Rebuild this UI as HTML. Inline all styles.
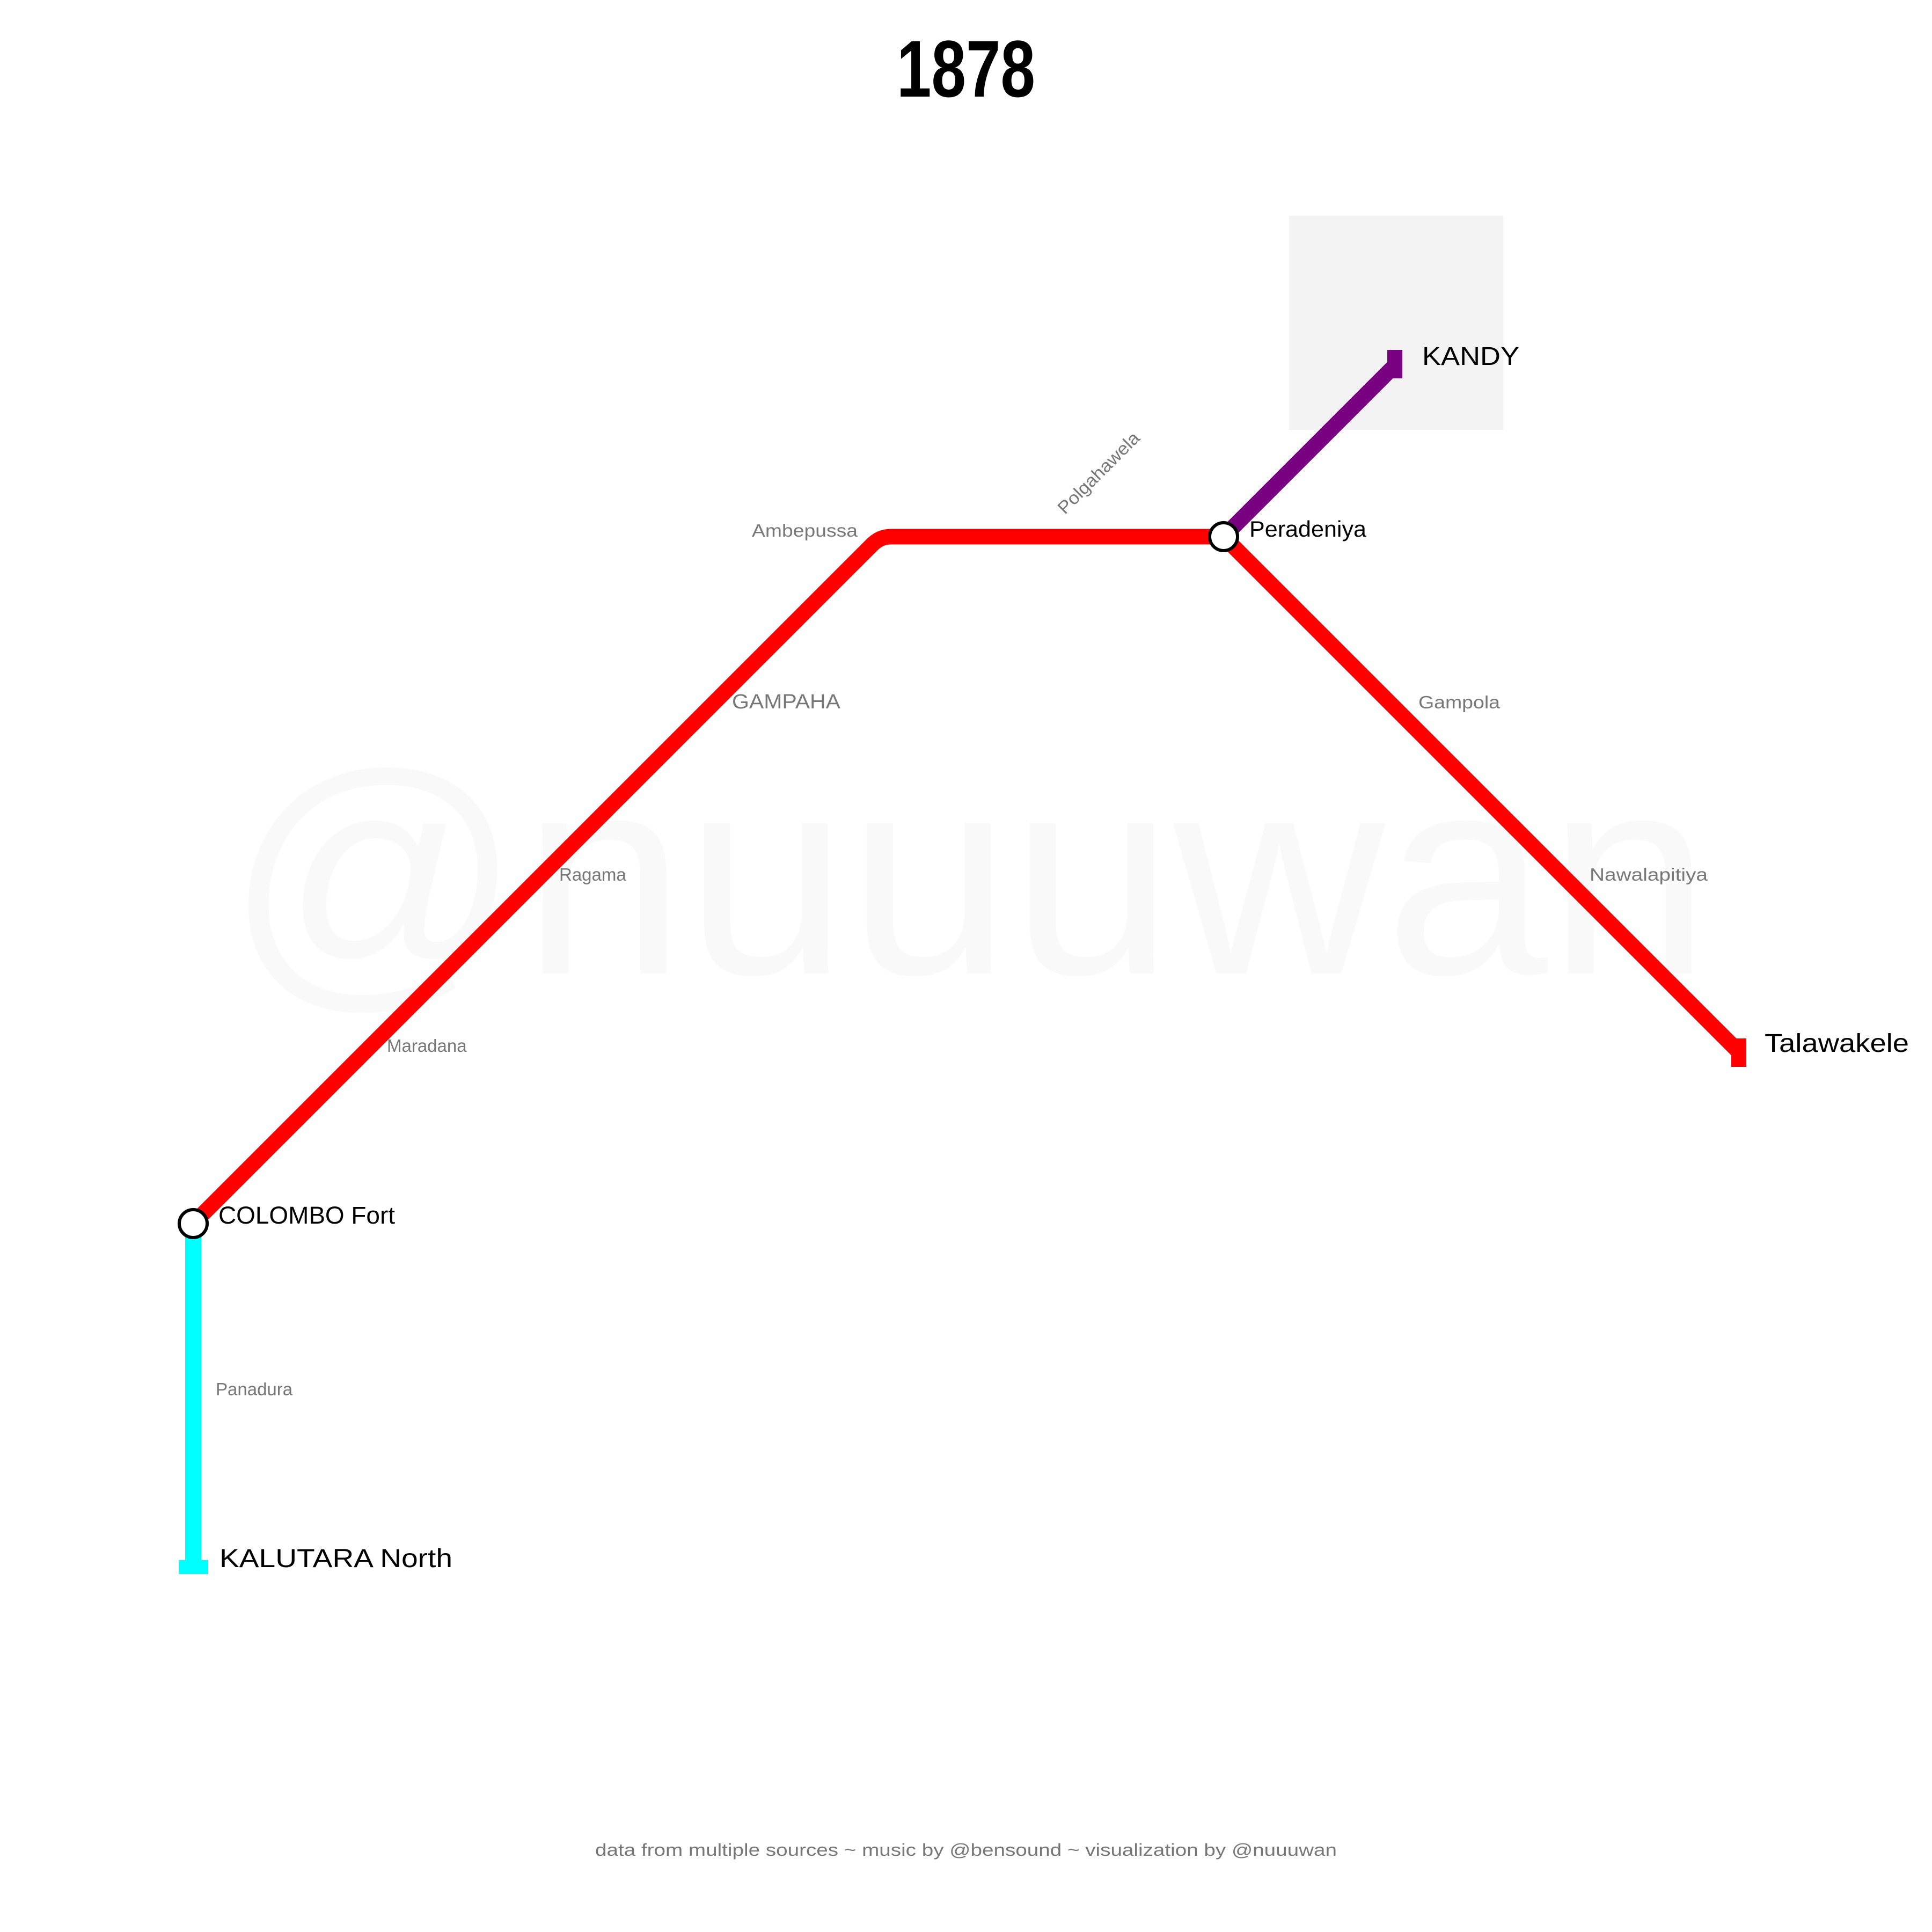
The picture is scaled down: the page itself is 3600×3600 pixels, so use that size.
<!DOCTYPE html>
<html><head><meta charset="utf-8"><style>html,body{margin:0;padding:0;background:#fff}svg{display:block}</style></head>
<body>
<svg width="3600" height="3600" viewBox="0 0 3600 3600" xmlns="http://www.w3.org/2000/svg" font-family="Liberation Sans, DejaVu Sans, sans-serif">
<rect width="3600" height="3600" fill="#fff"/>
<text x="420" y="1814" font-size="530" fill="#f9f9f9" textLength="2767" lengthAdjust="spacingAndGlyphs">@nuuuwan</text>
<rect x="2402" y="402" width="399" height="399" fill="#f3f3f3"/>
<text x="1800" y="180" font-size="150" font-weight="bold" text-anchor="middle" textLength="258" lengthAdjust="spacingAndGlyphs">1878</text>
<path d="M360 2280 L1625 1015 Q1640 1000 1660 1000 L2280 1000 L3240 1960" fill="none" stroke="#ff0000" stroke-width="29" stroke-linejoin="round"/>
<rect x="3226" y="1935" width="28" height="53" fill="#ff0000"/>
<line x1="2280" y1="1000" x2="2599" y2="681" stroke="#780080" stroke-width="29"/>
<rect x="2585" y="652" width="28" height="53" fill="#780080"/>
<line x1="360" y1="2280" x2="360" y2="2920" stroke="#00ffff" stroke-width="30"/>
<rect x="333" y="2907" width="55" height="26" fill="#00ffff"/>
<circle cx="360" cy="2280" r="26" fill="#fff" stroke="#000" stroke-width="6"/>
<circle cx="2280" cy="1000" r="26" fill="#fff" stroke="#000" stroke-width="6"/>
<g fill="#000">
<text x="407" y="2280" font-size="45" textLength="329" lengthAdjust="spacingAndGlyphs">COLOMBO Fort</text>
<text x="2328" y="1000" font-size="42" textLength="218" lengthAdjust="spacingAndGlyphs">Peradeniya</text>
<text x="2650" y="680" font-size="48" textLength="181" lengthAdjust="spacingAndGlyphs">KANDY</text>
<text x="3288" y="1960" font-size="48" textLength="269" lengthAdjust="spacingAndGlyphs">Talawakele</text>
<text x="409" y="2920" font-size="48" textLength="434" lengthAdjust="spacingAndGlyphs">KALUTARA North</text>
</g>
<g fill="#777" font-size="33">
<text x="1598" y="1000" text-anchor="end" textLength="197" lengthAdjust="spacingAndGlyphs">Ambepussa</text>
<text x="0" y="0" transform="translate(2055 889) rotate(-45)" text-anchor="middle" textLength="200" lengthAdjust="spacingAndGlyphs">Polgahawela</text>
<text x="1364" y="1320" font-size="38" textLength="202" lengthAdjust="spacingAndGlyphs">GAMPAHA</text>
<text x="2643" y="1320" textLength="152" lengthAdjust="spacingAndGlyphs">Gampola</text>
<text x="1042" y="1641">Ragama</text>
<text x="2962" y="1641" textLength="220" lengthAdjust="spacingAndGlyphs">Nawalapitiya</text>
<text x="721" y="1960">Maradana</text>
<text x="402" y="2600">Panadura</text>
<text x="1800" y="3458" text-anchor="middle" font-size="32" textLength="1382" lengthAdjust="spacingAndGlyphs">data from multiple sources ~ music by @bensound ~ visualization by @nuuuwan</text>
</g>
</svg>
</body></html>
